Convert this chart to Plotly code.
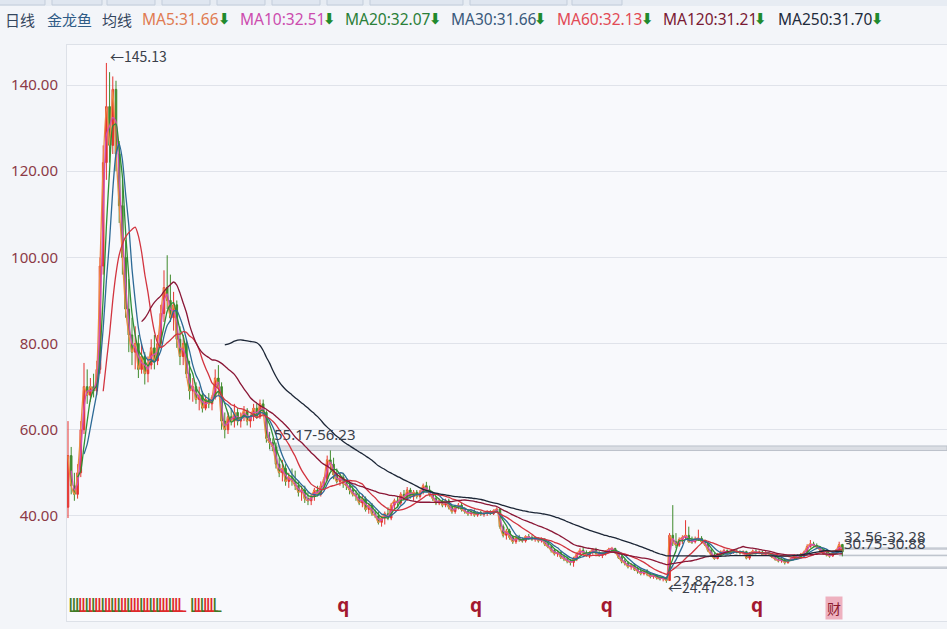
import plotly.graph_objects as go
import pandas as pd

# ---- weekly OHLC (one candle = one trading week, 5 sessions) ----
opens = [
    42, 54, 47, 45, 50, 60, 70, 68, 70, 69,
    74, 98, 122, 135, 126, 139, 124, 112, 100, 88,
    82, 78, 80, 74, 77, 73, 75, 79, 76, 80,
    87, 93, 90, 86, 89, 81, 77, 80, 73, 69,
    70, 67, 68, 65, 67, 66, 67.5, 72, 70, 62,
    60, 63, 62, 64, 62, 63, 64.5, 62, 63, 65,
    63, 66, 64, 58, 57, 56, 52, 50, 51, 48,
    49, 48, 47, 45.5, 46, 44, 43.5, 44.5, 46, 45,
    47, 48.5, 53, 52, 49.5, 48, 49, 47.5, 47, 46,
    45, 44.5, 43, 44, 41.5, 42.5, 40.5, 40, 38.5, 39.5,
    40.5, 39.5, 42.5, 43.5, 43, 45, 44, 46, 44.5, 45.5,
    44.5, 45.5, 47, 46, 45, 44, 43, 43.5, 42.5, 43.5,
    42, 41, 42, 42.5, 41.5, 41, 40.5, 41, 40.2, 40.8,
    40.4, 40.6, 40.9, 40.5, 41.2, 41.6, 37.5, 35.5, 36.5, 35,
    34, 35, 34.5, 34.2, 35.2, 35, 34.6, 34.8, 34.2, 34.6,
    33.4, 32.8, 32, 31.2, 31.5, 30.4, 30, 29.5, 29.2, 30,
    31.2, 32, 31.4, 31, 31.5, 32.2, 31.3, 30.8, 31.2, 31.8,
    32.3, 32.4, 31.6, 30.4, 29.5, 29, 28.2, 28.6, 27.6, 27.2,
    26.6, 27.2, 26.4, 25.9, 26.2, 25.6, 25.4, 25.6, 25, 35.5,
    34, 33.2, 34.5, 35, 35.5, 34, 34, 34.6, 34.8, 34,
    33.36, 32, 30.9, 30.1, 31, 31.5, 31.9, 31.3, 31.6, 31.8,
    31.7, 31.4, 31.7, 30.2, 31.3, 31.8, 31.5, 31.6, 31, 31.4,
    31.05, 30.45, 29.95, 29.55, 29.85, 29.15, 29.75, 30.05, 30.65, 30.45,
    31.05, 31.53, 32.9, 33.5, 33.1, 32.7, 32.1, 31.3, 31, 30.68,
    31.4, 31.86, 33.36,
]
highs = [
    62, 56, 50, 52, 62, 75.5, 74, 72, 73, 76,
    100, 126, 145.13, 143, 142, 141, 127, 118, 104, 95,
    86, 84, 82, 80, 78, 77, 81, 82, 82, 89,
    97, 100.5, 96, 92, 90, 84, 82, 81, 76, 72,
    71, 70, 69, 68, 68.5, 68, 74, 75, 71, 64,
    64, 65, 66, 65, 64, 65.5, 65, 63.5, 66, 66,
    67, 67, 64.5, 59.5, 58, 57, 53.5, 53, 52, 50,
    51, 50.5, 48, 47, 47, 45.5, 45, 46.5, 47, 48,
    49, 54, 55.2, 53.5, 51, 50, 50, 48.5, 48, 47,
    46, 45.5, 45, 44.5, 43, 43, 41.5, 41, 40, 41,
    42, 43, 44, 44.5, 45.5, 46, 46.7, 46.5, 46, 46,
    46, 47.5, 47.9, 47, 45.5, 44.5, 44, 44, 44, 44,
    42.5, 42.5, 43, 43, 42, 41.5, 41.5, 41.5, 41, 41.2,
    41, 41.3, 41.3, 41.5, 42, 41.8, 38, 37, 37, 35.5,
    35.5, 35.6, 35, 35.5, 35.8, 35.5, 35.2, 35, 35, 34.8,
    34, 33.2, 32.5, 32, 31.8, 31, 30.5, 30, 30.5, 31.5,
    32.5, 32.8, 32, 31.8, 32.5, 32.6, 31.8, 31.5, 32, 32.6,
    32.8, 32.6, 31.8, 30.8, 30, 29.5, 29, 29, 28.2, 27.8,
    27.5, 27.6, 26.8, 26.6, 26.5, 26, 25.9, 25.8, 36, 42.5,
    36, 35, 35.5, 39, 37.5, 35.2, 35.2, 36.8, 35.3, 34.4,
    33.6, 32.4, 31.4, 31.4, 32, 32.4, 32.2, 32, 32.2, 32.3,
    32, 32, 31.9, 31.6, 32.2, 32.2, 32, 31.9, 31.8, 31.6,
    31.2, 30.7, 30.3, 30.2, 30.1, 30, 30.4, 31, 31, 31.4,
    31.9, 33.4, 34.4, 34, 33.6, 33, 32.4, 31.8, 31.4, 31.8,
    32.3, 34, 33.5,
]
lows = [
    39.5, 45, 43.5, 44, 49, 59, 66, 66.5, 67.5, 68,
    73, 96, 118, 122, 124, 120, 108, 96, 86, 78,
    75, 74, 72, 73, 70.5, 71, 74, 74, 75, 79,
    85, 88, 85, 83, 79, 75, 75, 72, 67, 66.5,
    66, 64.5, 64, 64.5, 65, 64.5, 67, 68, 60, 58,
    59, 61, 60.5, 61, 60.5, 62, 61, 60.5, 62, 62.5,
    62.5, 63, 57, 55.5, 55, 51, 49, 48, 47, 46.5,
    47, 46, 44.5, 43.5, 43, 42.5, 42.5, 43.5, 44.5, 44.5,
    46, 48, 50.5, 48.5, 47.5, 47, 46.5, 46, 45, 44.5,
    43.5, 42.5, 42, 41, 40.5, 40, 39.5, 38, 37.5, 38,
    39, 39, 41.5, 42, 42.5, 43.5, 43.5, 44, 43.5, 44,
    44, 45, 45.5, 44.5, 43.5, 42.5, 42.5, 42, 42, 41.5,
    40.5, 40.5, 41.5, 41, 40.5, 40, 40, 39.8, 39.8, 40,
    39.8, 40, 40.2, 40.2, 40.8, 37, 35, 34.5, 34.5, 33.5,
    33.5, 34, 33.8, 33.8, 34.5, 34.2, 34, 33.8, 33.8, 33,
    32.5, 31.5, 30.8, 30.5, 30, 29.5, 29, 28.5, 28.2, 29.5,
    30.8, 31, 30.5, 30.2, 31, 31, 30.5, 30.2, 30.8, 31.4,
    31.8, 31.2, 30, 29, 28.5, 27.8, 27.5, 27.2, 26.6, 26.2,
    26.2, 26, 25.5, 25.4, 25.2, 25, 24.8, 24.47, 25, 33,
    32.5, 32.8, 33.5, 34.5, 33.8, 33.5, 33.6, 34.2, 33.6, 33,
    31.6, 30.5, 29.8, 29.9, 30.7, 31.2, 31, 31, 31.2, 31.3,
    31, 31, 29.9, 29.8, 31, 31.2, 31.1, 30.7, 30.8, 30.7,
    30.2, 29.6, 29.2, 29.1, 28.7, 28.9, 29.5, 29.8, 30.1, 30.2,
    30.8, 31.3, 32.6, 32.8, 32.3, 31.8, 31, 30.6, 30.3, 30.5,
    31.2, 31.6, 30.6,
]
closes = [
    54, 47, 45, 50, 60, 70, 68, 70, 69, 74,
    98, 122, 135, 126, 139, 124, 112, 100, 88, 82,
    78, 80, 74, 77, 73, 75, 79, 76, 80, 87,
    93, 90, 86, 89, 81, 77, 80, 73, 69, 70,
    67, 68, 65, 67, 66, 67.5, 72, 70, 62, 60,
    63, 62, 64, 62, 63, 64.5, 62, 63, 65, 63,
    66, 64, 58, 57, 56, 52, 50, 51, 48, 49,
    48, 47, 45.5, 46, 44, 43.5, 44.5, 46, 45, 47,
    48.5, 53, 52, 49.5, 48, 49, 47.5, 47, 46, 45,
    44.5, 43, 44, 41.5, 42.5, 40.5, 40, 38.5, 39.5, 40.5,
    39.5, 42.5, 43.5, 43, 45, 44, 46, 44.5, 45.5, 44.5,
    45.5, 47, 46, 45, 44, 43, 43.5, 42.5, 43.5, 42,
    41, 42, 42.5, 41.5, 41, 40.5, 41, 40.2, 40.8, 40.4,
    40.6, 40.9, 40.5, 41.2, 41.6, 37.5, 35.5, 36.5, 35, 34,
    35, 34.5, 34.2, 35.2, 35, 34.6, 34.8, 34.2, 34.6, 33.4,
    32.8, 32, 31.2, 31.5, 30.4, 30, 29.5, 29.2, 30, 31.2,
    32, 31.4, 31, 31.5, 32.2, 31.3, 30.8, 31.2, 31.8, 32.3,
    32.4, 31.6, 30.4, 29.5, 29, 28.2, 28.6, 27.6, 27.2, 26.6,
    27.2, 26.4, 25.9, 26.2, 25.6, 25.4, 25.6, 25, 35.5, 34,
    33.2, 34.5, 35, 35.5, 34, 34, 34.6, 34.8, 34, 33.36,
    32, 30.9, 30.1, 31, 31.5, 31.9, 31.3, 31.6, 31.8, 31.7,
    31.4, 31.7, 30.2, 31.3, 31.8, 31.5, 31.6, 31, 31.4, 31.05,
    30.45, 29.95, 29.55, 29.85, 29.15, 29.75, 30.05, 30.65, 30.45, 31.05,
    31.53, 32.9, 33.5, 33.1, 32.7, 32.1, 31.3, 31, 30.68, 31.4,
    31.86, 33.36, 31.66,
]
assert len(opens) == len(highs) == len(lows) == len(closes)

# moving-average periods (in sessions) and their colours
ma_periods = [5, 10, 20, 30, 60, 120, 250]
ma_colors = ["#ee8a45", "#d04fb4", "#2f8f35", "#2d6a96", "#d2343f", "#8a1736", "#1c2636"]
ma_text_colors = ["#e07b52", "#cc4cae", "#2a7f38", "#3a5a7c", "#e24a55", "#7a1a34", "#1e2b3b"]
SESSIONS_PER_BAR = 5

# price zones: (first label value, second label value, first candle index, label side)
zones = [
    (55.17, 56.23, 63, "above"),
    (27.82, 28.13, 187.5, "below"),
    (32.56, 32.28, 241, "above"),
    (30.75, 30.88, 241, "above"),
]

# event marks along the bottom
l_mark_idx = list(range(0, 35)) + list(range(38, 46))
l_mark_dir = "gggrrgrgrrgrrgrgrrgrrrgrrgrgrrrgrrr" + "grrgrrrg"
q_mark_idx = [86, 127.5, 168.4, 215.3]
report_idx = 239.4

idx = list(range(len(closes)))
close_s = pd.Series(closes, dtype=float)
ma_series = [close_s.rolling(max(1, p // SESSIONS_PER_BAR)).mean() for p in ma_periods]

# ---- geometry ----
W, H = 947, 629
ML, MR, MT, MB = 67, 0, 45, 8
PW, PH = W - ML - MR, H - MT - MB
X0, X1 = -0.31, 274.7
Y0, Y1 = 15.6, 149.3
MARK_Y = 18.7


def px(xpix):
    return (xpix - ML) / PW


def py(ypix):
    return (H - MB - ypix) / PH


fig = go.Figure()

fig.add_trace(go.Candlestick(
    x=idx, open=opens, high=highs, low=lows, close=closes,
    increasing=dict(line=dict(color="#e5332f", width=1), fillcolor="#e5332f"),
    decreasing=dict(line=dict(color="#3f8a2c", width=1), fillcolor="#3f8a2c"),
    whiskerwidth=0, hoverinfo="skip", showlegend=False,
))

for p, s, col in zip(ma_periods, ma_series, ma_colors):
    fig.add_trace(go.Scatter(
        x=idx, y=s, mode="lines", name=f"MA{p}",
        line=dict(color=col, width=1.3, shape="spline", smoothing=0.6),
        hoverinfo="skip", showlegend=False,
    ))

# price-zone bands and labels
shapes = []
annotations = []
for a, b, start, side in zones:
    lo, hi = min(a, b), max(a, b)
    shapes.append(dict(type="rect", xref="x", yref="y", x0=start, x1=X1, y0=lo, y1=hi,
                       fillcolor="rgba(200,204,212,0.6)", line=dict(color="#bcc2cb", width=1),
                       layer="below"))
    annotations.append(dict(
        x=start + 0.8, y=hi if side == "above" else lo, xref="x", yref="y",
        text=f"{a:.2f}-{b:.2f}", showarrow=False, xanchor="left",
        yanchor="bottom" if side == "above" else "top",
        font=dict(family="Noto Sans", size=15, color="#3a3f4a"),
    ))

# extreme-price labels
i_hi = max(idx, key=lambda i: highs[i])
i_lo = min(idx, key=lambda i: lows[i])
annotations.append(dict(x=i_hi, y=highs[i_hi], xref="x", yref="y", text=f"←{highs[i_hi]:.2f}",
                        showarrow=False, xanchor="left", yanchor="middle", xshift=2, yshift=7,
                        font=dict(family="Noto Sans CJK SC", size=14, color="#3a3f4a")))
annotations.append(dict(x=i_lo, y=lows[i_lo], xref="x", yref="y", text=f"←{lows[i_lo]:.2f}",
                        showarrow=False, xanchor="left", yanchor="middle", xshift=0, yshift=-4,
                        font=dict(family="Noto Sans CJK SC", size=14, color="#3a3f4a")))

# bottom event marks
fig.add_trace(go.Scatter(
    x=l_mark_idx, y=[MARK_Y] * len(l_mark_idx), mode="text", text=["L"] * len(l_mark_idx),
    textposition="middle right",
    textfont=dict(family="Noto Sans", size=19,
                  color=["#e0282a" if d == "r" else "#3f7a25" for d in l_mark_dir]),
    hoverinfo="skip", showlegend=False,
))
fig.add_trace(go.Scatter(
    x=q_mark_idx, y=[MARK_Y] * len(q_mark_idx), mode="text", text=["<b>q</b>"] * len(q_mark_idx),
    textposition="middle center",
    textfont=dict(family="Noto Sans", size=19, color="#a3182f"),
    hoverinfo="skip", showlegend=False,
))
annotations.append(dict(x=report_idx, y=MARK_Y, xref="x", yref="y", text="财", showarrow=False,
                        bgcolor="#eeb1bf", borderpad=1,
                        font=dict(family="Noto Sans CJK SC", size=14, color="#8c1a2c")))

# header line
header = [("日线", 3, "#34465e"), ("金龙鱼", 45, "#2f5b86"), ("均线", 100, "#34465e")]
for txt, x, col in header:
    annotations.append(dict(x=px(x), y=py(19), xref="paper", yref="paper", text=txt,
                            showarrow=False, xanchor="left", yanchor="middle",
                            font=dict(family="Noto Sans CJK SC", size=15, color=col)))
ma_label_x = [140, 238, 343, 449, 555, 661, 776]
ma_arrow_x = [224, 329, 435, 540, 647, 760, 877]
for p, s, col, x, xa in zip(ma_periods, ma_series, ma_text_colors, ma_label_x, ma_arrow_x):
    annotations.append(dict(
        x=px(x), y=py(19), xref="paper", yref="paper",
        text=f"MA{p}:{s.iloc[-1]:.2f}",
        showarrow=False, xanchor="left", yanchor="middle",
        font=dict(family="Noto Sans", size=15.5, color=col)))
    annotations.append(dict(
        x=px(xa), y=py(19), xref="paper", yref="paper", text="<b>⬇</b>",
        showarrow=False, xanchor="center", yanchor="middle",
        font=dict(family="DejaVu Sans", size=15, color="#1f8a2e")))

# toolbar strip along the top edge
shapes.append(dict(type="rect", xref="paper", yref="paper", x0=px(0), x1=px(W), y0=py(6), y1=py(0),
                   fillcolor="#e7ecf3", line=dict(width=0), layer="below"))
for a, b in [(-4, 45), (52, 102), (107, 155), (162, 210), (217, 265), (272, 320),
             (327, 363), (370, 463), (470, 567), (572, 622)]:
    shapes.append(dict(type="rect", xref="paper", yref="paper", x0=px(a), x1=px(b),
                       y0=py(5), y1=py(-3), fillcolor="#dfe6f0",
                       line=dict(color="#c3cddb", width=1), layer="below"))

fig.update_layout(
    width=W, height=H, autosize=False,
    margin=dict(l=ML, r=MR, t=MT, b=MB, pad=0),
    paper_bgcolor="#f3f5f9", plot_bgcolor="#f8f9fc",
    shapes=shapes, annotations=annotations, showlegend=False,
    xaxis=dict(range=[X0, X1], showgrid=False, zeroline=False, showticklabels=False,
               showline=True, mirror=True, linecolor="#dde1e8", linewidth=1,
               rangeslider=dict(visible=False), fixedrange=True),
    yaxis=dict(range=[Y0, Y1], tickvals=[40, 60, 80, 100, 120, 140], tickformat=".2f",
               showgrid=True, gridcolor="#e0e3ea", gridwidth=1, zeroline=False,
               showline=True, linecolor="#dde1e8", ticks="", ticklabelstandoff=5,
               tickfont=dict(family="Noto Sans", size=15, color="#8c3a46"), fixedrange=True),
)

fig.write_html("out.html")
